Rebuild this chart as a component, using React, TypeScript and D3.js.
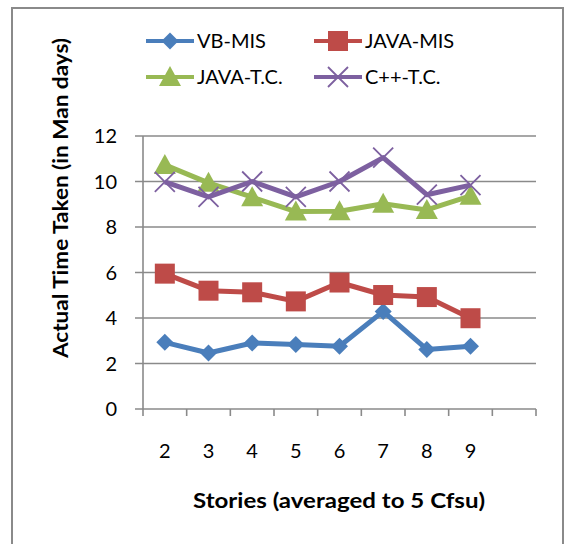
import React, { useRef, useEffect } from 'react';
import * as d3 from 'd3';

// categories on x (last slot is an empty category, as in the source chart)
const stories = ['2', '3', '4', '5', '6', '7', '8', '9', ''];
const yTicks = [0, 2, 4, 6, 8, 10, 12];

const vbMis = [2.93, 2.46, 2.9, 2.83, 2.76, 4.29, 2.62, 2.76];
const javaMis = [5.95, 5.2, 5.13, 4.73, 5.56, 5.01, 4.92, 3.99];
const javaTc = [10.73, 9.94, 9.31, 8.68, 8.69, 9.02, 8.75, 9.37];
const cppTc = [9.98, 9.32, 10.0, 9.32, 10.0, 11.05, 9.42, 9.84];

const seriesNames = ['VB-MIS', 'JAVA-MIS', 'JAVA-T.C.', 'C++-T.C.'];
const seriesColors = ['#4A7EBB', '#BE4B48', '#98B954', '#7D60A0'];
const seriesMarkers = ['diamond', 'square', 'triangle', 'cross'];

const FONT = 'Lato, Calibri, "Open Sans", sans-serif';

const App = () => {
  const svgRef = useRef(null);

  useEffect(() => {
    const svg = d3.select(svgRef.current);
    svg.selectAll('*').remove();

    const width = 565;
    const height = 544;
    const margin = { top: 136, right: 29, bottom: 135, left: 143 };
    const axisColor = '#8a8a8a';

    svg.attr('width', width).attr('height', height);

    // outer frame
    svg.append('rect')
      .attr('x', 12).attr('y', 8)
      .attr('width', 551).attr('height', 560)
      .attr('fill', 'white')
      .attr('stroke', axisColor)
      .attr('stroke-width', 2);

    const xScale = d3.scaleBand()
      .domain(stories)
      .range([margin.left, width - margin.right])
      .paddingInner(0)
      .paddingOuter(0);

    const yScale = d3.scaleLinear()
      .domain([0, 12])
      .range([height - margin.bottom, margin.top]);

    // horizontal gridlines + y ticks
    svg.append('g')
      .selectAll('line')
      .data(yTicks)
      .join('line')
      .attr('x1', margin.left - 8)
      .attr('x2', width - margin.right)
      .attr('y1', d => yScale(d))
      .attr('y2', d => yScale(d))
      .attr('stroke', axisColor)
      .attr('stroke-width', 1.6);

    svg.append('g')
      .selectAll('text')
      .data(yTicks)
      .join('text')
      .attr('x', margin.left - 26)
      .attr('y', d => yScale(d))
      .attr('dy', '0.35em')
      .attr('text-anchor', 'end')
      .attr('font-family', FONT)
      .attr('font-size', 20)
      .attr('fill', '#000')
      .text(d => d);

    // y axis line
    svg.append('line')
      .attr('x1', margin.left).attr('x2', margin.left)
      .attr('y1', yScale(12)).attr('y2', yScale(0))
      .attr('stroke', axisColor)
      .attr('stroke-width', 1.6);

    // x tick marks at band boundaries
    const boundaries = stories.map(s => xScale(s)).concat([xScale.range()[1]]);
    svg.append('g')
      .selectAll('line')
      .data(boundaries)
      .join('line')
      .attr('x1', d => d).attr('x2', d => d)
      .attr('y1', yScale(0)).attr('y2', yScale(0) + 7)
      .attr('stroke', axisColor)
      .attr('stroke-width', 1.6);

    svg.append('g')
      .selectAll('text')
      .data(stories)
      .join('text')
      .attr('x', d => xScale(d) + xScale.bandwidth() / 2)
      .attr('y', yScale(0) + 49)
      .attr('text-anchor', 'middle')
      .attr('font-family', FONT)
      .attr('font-size', 20)
      .attr('fill', '#000')
      .text(d => d);

    // axis titles
    svg.append('text')
      .attr('x', 339)
      .attr('y', 508)
      .attr('text-anchor', 'middle')
      .attr('font-family', FONT)
      .attr('font-size', 21)
      .attr('font-weight', 'bold')
      .attr('textLength', 292)
      .attr('lengthAdjust', 'spacingAndGlyphs')
      .text('Stories (averaged to 5 Cfsu)');

    svg.append('text')
      .attr('transform', 'translate(68,198) rotate(-90)')
      .attr('text-anchor', 'middle')
      .attr('font-family', FONT)
      .attr('font-size', 21)
      .attr('font-weight', 'bold')
      .attr('textLength', 320)
      .attr('lengthAdjust', 'spacingAndGlyphs')
      .text('Actual Time Taken (in Man days)');

    const drawMarker = (g, type, color, x, y) => {
      if (type === 'diamond') {
        g.append('path')
          .attr('d', `M${x},${y - 8.5}L${x + 8.5},${y}L${x},${y + 8.5}L${x - 8.5},${y}Z`)
          .attr('fill', color);
      } else if (type === 'square') {
        g.append('rect')
          .attr('x', x - 10).attr('y', y - 10)
          .attr('width', 20).attr('height', 20)
          .attr('fill', color);
      } else if (type === 'triangle') {
        g.append('path')
          .attr('d', `M${x},${y - 11}L${x + 11},${y + 9}L${x - 11},${y + 9}Z`)
          .attr('fill', color);
      } else {
        g.append('path')
          .attr('d', `M${x - 10},${y - 10}L${x + 10},${y + 10}M${x - 10},${y + 10}L${x + 10},${y - 10}`)
          .attr('stroke', color)
          .attr('stroke-width', 1.8)
          .attr('fill', 'none');
      }
    };

    const allSeries = [vbMis, javaMis, javaTc, cppTc];
    const line = d3.line()
      .x((d, i) => xScale(stories[i]) + xScale.bandwidth() / 2)
      .y(d => yScale(d));

    allSeries.forEach((values, si) => {
      const g = svg.append('g');
      g.append('path')
        .datum(values)
        .attr('d', line)
        .attr('fill', 'none')
        .attr('stroke', seriesColors[si])
        .attr('stroke-width', 5)
        .attr('stroke-linejoin', 'round');
      values.forEach((v, i) => {
        drawMarker(g, seriesMarkers[si], seriesColors[si],
          xScale(stories[i]) + xScale.bandwidth() / 2, yScale(v));
      });
    });

    // legend
    const legendPos = [[146, 41], [314, 41], [146, 77], [314, 77]];
    seriesNames.forEach((name, si) => {
      const [lx, ly] = legendPos[si];
      const g = svg.append('g');
      g.append('line')
        .attr('x1', lx).attr('x2', lx + 48)
        .attr('y1', ly).attr('y2', ly)
        .attr('stroke', seriesColors[si])
        .attr('stroke-width', 4);
      drawMarker(g, seriesMarkers[si], seriesColors[si], lx + 24, ly);
      g.append('text')
        .attr('x', lx + 51)
        .attr('y', ly)
        .attr('dy', '0.35em')
        .attr('font-family', FONT)
        .attr('font-size', 20)
        .text(name);
    });
  }, []);

  return (
    <svg ref={svgRef} style={{ position: 'absolute', left: 0, top: 0 }}></svg>
  );
};

export default App;
